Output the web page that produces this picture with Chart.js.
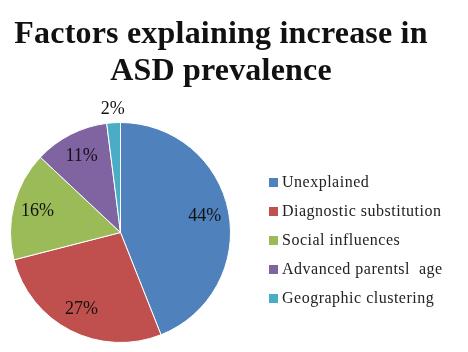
<!DOCTYPE html>
<html>
<head>
<meta charset="utf-8">
<script src="https://cdn.jsdelivr.net/npm/chart.js@4"></script>
<style>
	html, body { margin: 0; padding: 0; background: #fff; }
	#wrap { width: 468px; height: 352px; }
</style>
</head>
<body>
<div id="wrap"><canvas id="asd-chart"></canvas></div>
<script>
var titleLines = ['Factors explaining increase in', 'ASD prevalence']
var factors = ['Unexplained', 'Diagnostic substitution', 'Social influences', 'Advanced parentsl  age', 'Geographic clustering']
var shares = [44, 27, 16, 11, 2]
var colors = ['#4f81bd', '#c0504d', '#9bbb59', '#8064a2', '#4bacc6']

// title, slice labels and legend drawn on top of the pie
var extras = {
	id: 'extras',
	afterDraw: function(chart) {
		var ctx = chart.ctx
		ctx.save()
		ctx.fillStyle = '#111'
		ctx.textAlign = 'center'
		ctx.textBaseline = 'alphabetic'
		ctx.letterSpacing = '0.2px'
		ctx.font = 'bold 32px "Liberation Serif"'
		ctx.fillText(titleLines[0], 221, 43)
		ctx.fillText(titleLines[1], 221, 80)

		// percentages
		ctx.font = '18px "Liberation Serif"'
		ctx.textBaseline = 'middle'
		ctx.letterSpacing = '0px'
		var arcs = chart.getDatasetMeta(0).data
		arcs.forEach(function(arc, i) {
			var p = arc.getProps(['x', 'y', 'startAngle', 'endAngle', 'outerRadius'], true)
			var mid = (p.startAngle + p.endAngle) / 2
			var r = shares[i] < 5 ? p.outerRadius + 13 : p.outerRadius * 0.78
			ctx.fillText(shares[i] + '%', p.x + Math.cos(mid) * r, p.y + Math.sin(mid) * r)
		})

		// legend
		ctx.textAlign = 'left'
		ctx.letterSpacing = '0.5px'
		ctx.font = '16px "Liberation Serif"'
		factors.forEach(function(name, i) {
			var y = 182 + i * 29
			ctx.fillStyle = colors[i]
			ctx.fillRect(269, y - 4, 9, 9)
			ctx.fillStyle = '#222'
			ctx.fillText(name, 282, y + 1)
		})
		ctx.restore()
	}
}

var ctx = document.getElementById('asd-chart').getContext('2d')
var myChart = new Chart(ctx, {
	type: 'pie',
	data: {
		labels: factors,
		datasets: [{
			data: shares,
			backgroundColor: colors,
			borderColor: '#ffffff',
			borderWidth: 1
		}]
	},
	options: {
		responsive: true,
		maintainAspectRatio: false,
		animation: false,
		layout: { padding: { left: 10, right: 237, top: 122, bottom: 9 } },
		plugins: {
			legend: { display: false },
			tooltip: { enabled: false },
			title: { display: false }
		}
	},
	plugins: [extras]
})
</script>
</body>
</html>
